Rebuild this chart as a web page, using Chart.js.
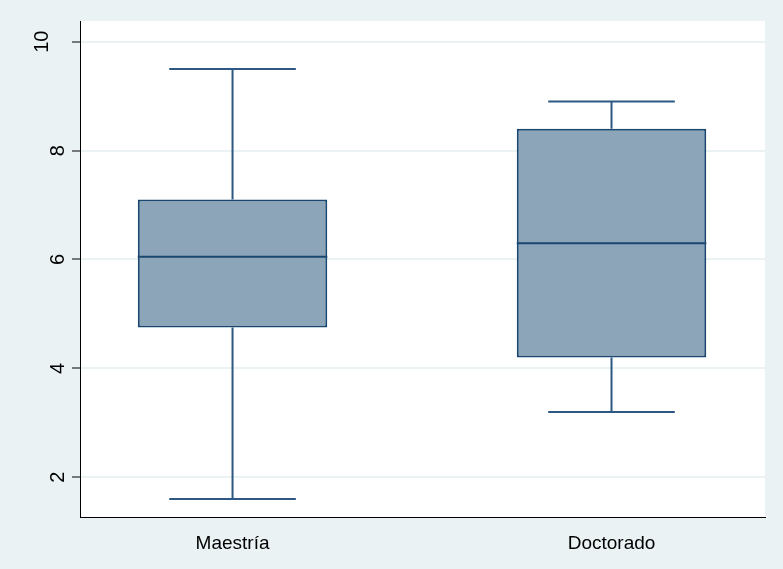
<!DOCTYPE html>
<html>
<head>
<meta charset="utf-8">
<script src="https://cdn.jsdelivr.net/npm/chart.js@4.4.1/dist/chart.umd.min.js"></script>
<style>
  html, body { margin: 0; padding: 0; background: #eaf2f3; }
  #wrap { width: 783px; height: 569px; }
</style>
</head>
<body>
<div id="wrap"><canvas id="boxChart" width="783" height="569"></canvas></div>
<script>
// datos del gráfico de cajas
const categories = ['Maestría', 'Doctorado'];
const whiskerLow = [1.6, 3.2];
const q1 = [4.75, 4.2];
const median = [6.05, 6.3];
const q3 = [7.1, 8.4];
const whiskerHigh = [9.5, 8.9];
const yTicks = [2, 4, 6, 8, 10];

const BG = '#eaf2f3';
const LINE = '#1a476f';
const WHISK = '#2d5883';
const FILL = '#8da5b9';
const FONT = "'Liberation Sans', Arial, sans-serif";

// fondo gris azulado y área de trazado blanca
const backdrop = {
    id: 'backdrop',
    beforeDraw(chart) {
        const { ctx, chartArea: a } = chart;
        ctx.save();
        ctx.fillStyle = BG;
        ctx.fillRect(0, 0, chart.width, chart.height);
        ctx.fillStyle = '#ffffff';
        ctx.fillRect(a.left, a.top, a.right - a.left, a.bottom - a.top);
        ctx.restore();
    }
};

// bigotes y mediana
const boxExtras = {
    id: 'boxExtras',
    afterDatasetsDraw(chart) {
        const { ctx, scales: { x, y } } = chart;
        const capHalf = 0.167;
        const boxHalf = 0.25;
        ctx.save();
        ctx.lineWidth = 2;
        ctx.lineCap = 'butt';
        categories.forEach((c, i) => {
            const cx = x.getPixelForValue(i);
            ctx.strokeStyle = WHISK;
            // bigote superior
            ctx.beginPath();
            ctx.moveTo(cx, y.getPixelForValue(q3[i]));
            ctx.lineTo(cx, y.getPixelForValue(whiskerHigh[i]));
            ctx.moveTo(x.getPixelForValue(i - capHalf), y.getPixelForValue(whiskerHigh[i]));
            ctx.lineTo(x.getPixelForValue(i + capHalf), y.getPixelForValue(whiskerHigh[i]));
            // bigote inferior
            ctx.moveTo(cx, y.getPixelForValue(q1[i]));
            ctx.lineTo(cx, y.getPixelForValue(whiskerLow[i]));
            ctx.moveTo(x.getPixelForValue(i - capHalf), y.getPixelForValue(whiskerLow[i]));
            ctx.lineTo(x.getPixelForValue(i + capHalf), y.getPixelForValue(whiskerLow[i]));
            ctx.stroke();
            // mediana
            ctx.strokeStyle = LINE;
            ctx.beginPath();
            ctx.moveTo(x.getPixelForValue(i - boxHalf), y.getPixelForValue(median[i]));
            ctx.lineTo(x.getPixelForValue(i + boxHalf), y.getPixelForValue(median[i]));
            ctx.stroke();
        });
        ctx.restore();
    }
};

// etiquetas verticales del eje y (estilo Stata)
const yLabels = {
    id: 'yLabels',
    afterDraw(chart) {
        const { ctx, scales: { y } } = chart;
        ctx.save();
        ctx.font = '20px ' + FONT;
        ctx.fillStyle = '#000';
        ctx.textAlign = 'center';
        ctx.textBaseline = 'alphabetic';
        const digitW = ctx.measureText('0').width;
        yTicks.forEach(v => {
            const txt = String(v);
            const extra = (ctx.measureText(txt).width - digitW) * 1.45;
            ctx.save();
            ctx.translate(y.left + 64 - extra, y.getPixelForValue(v));
            ctx.rotate(-Math.PI / 2);
            ctx.fillText(txt, 0, 0);
            ctx.restore();
        });
        ctx.restore();
    }
};

const ctx = document.getElementById('boxChart').getContext('2d');
new Chart(ctx, {
    type: 'bar',
    data: {
        datasets: [{
            data: categories.map((c, i) => ({ x: i, y: [q1[i], q3[i]] })),
            backgroundColor: FILL,
            borderColor: LINE,
            borderWidth: 2,
            borderSkipped: false,
            barPercentage: 0.5,
            categoryPercentage: 1.0
        }]
    },
    options: {
        responsive: false,
        animation: false,
        events: [],
        layout: { padding: { left: 0, right: 18, top: 21, bottom: 0 } },
        plugins: { legend: { display: false }, tooltip: { enabled: false } },
        scales: {
            x: {
                type: 'linear',
                offset: false,
                min: -0.4025,
                max: 1.405,
                afterBuildTicks: s => { s.ticks = categories.map((c, i) => ({ value: i })); },
                afterFit: s => { s.height = 52; },
                ticks: {
                    callback: v => categories[v],
                    color: '#000',
                    font: { family: FONT, size: 19 },
                    padding: 7,
                    maxRotation: 0
                },
                grid: { display: false, offset: false },
                border: { display: true, color: '#000', width: 1 }
            },
            y: {
                min: 1.27,
                max: 10.38,
                afterBuildTicks: s => { s.ticks = yTicks.map(v => ({ value: v })); },
                afterFit: s => { s.width = 80; },
                ticks: { display: false },
                grid: {
                    color: BG,
                    lineWidth: 2,
                    drawTicks: true,
                    tickLength: 8,
                    tickColor: '#000',
                    tickWidth: 1
                },
                border: { display: true, color: '#000', width: 1 }
            }
        }
    },
    plugins: [backdrop, boxExtras, yLabels]
});
</script>
</body>
</html>
